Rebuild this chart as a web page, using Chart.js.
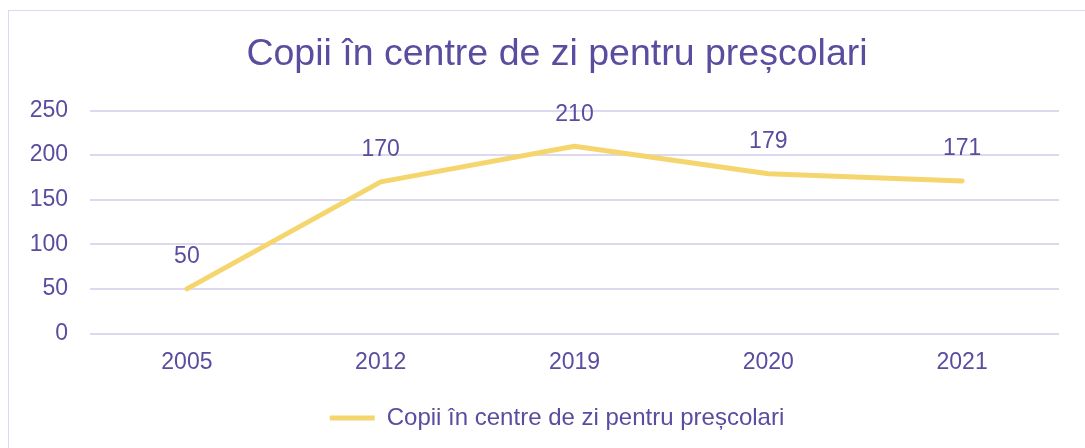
<!DOCTYPE html>
<html>
<head>
<meta charset="utf-8">
<script src="https://cdn.jsdelivr.net/npm/chart.js@4/dist/chart.umd.min.js"></script>
<style>
  body { margin: 0; background: #fff; overflow: hidden; }
  .frame { position: absolute; left: 8px; top: 10px; width: 1200px; height: 600px; border: 1px solid #dcd8ee; }
  .wrap { position: absolute; left: 0; top: 0; width: 1114px; height: 448px; }
</style>
</head>
<body>
<div class="frame"></div>
<div class="wrap"><canvas id="myChart"></canvas></div>
<script>
// data
const years = ['2005', '2012', '2019', '2020', '2021']
const children = [50, 170, 210, 179, 171]
const seriesName = 'Copii în centre de zi pentru preșcolari'
const yTicks = [0, 50, 100, 150, 200, 250]

const purple = '#5a4c9f'
const yellow = '#f5d66e'
const gridColor = '#dcd8ee'

// value labels above each point
const pointLabels = {
  id: 'pointLabels',
  afterDatasetsDraw(chart) {
    const ctx = chart.ctx
    const meta = chart.getDatasetMeta(0)
    ctx.save()
    ctx.font = '23px "Liberation Sans", Arial, sans-serif'
    ctx.fillStyle = purple
    ctx.textAlign = 'center'
    ctx.textBaseline = 'middle'
    meta.data.forEach((pt, i) => {
      ctx.fillText(String(children[i]), pt.x, pt.y - 32)
    })
    ctx.restore()
  }
}

Chart.defaults.font.family = '"Liberation Sans", Arial, sans-serif'
Chart.defaults.color = purple

var ctx = document.getElementById('myChart').getContext('2d')
var myChart = new Chart(ctx, {
  type: 'line',
  data: {
    labels: years,
    datasets: [
      {
        label: seriesName,
        data: children,
        borderColor: yellow,
        backgroundColor: yellow,
        borderWidth: 5,
        borderCapStyle: 'round',
        borderJoinStyle: 'round',
        pointRadius: 0,
        pointStyle: 'line',
        tension: 0
      }
    ]
  },
  options: {
    responsive: true,
    maintainAspectRatio: false,
    animation: false,
    layout: { padding: { left: 0, right: 0, top: 0, bottom: 8 } },
    plugins: {
      title: {
        display: true,
        text: seriesName,
        color: purple,
        font: { size: 37.5, weight: 'normal' },
        padding: { top: 32, bottom: 33.5 }
      },
      legend: {
        position: 'bottom',
        labels: {
          usePointStyle: true,
          pointStyleWidth: 45,
          color: purple,
          font: { size: 24 },
          padding: 10
        }
      },
      tooltip: { enabled: false }
    },
    scales: {
      x: {
        offset: true,
        grid: { display: false, drawTicks: false },
        border: { display: false },
        ticks: { padding: 15, font: { size: 23 }, color: purple },
        afterFit(scale) { scale.height = 62.5 }
      },
      y: {
        min: 0,
        max: 250,
        afterBuildTicks(scale) { scale.ticks = yTicks.map(v => ({ value: v })) },
        grid: { color: gridColor, lineWidth: 2, drawTicks: false },
        border: { display: false },
        ticks: { padding: 22, font: { size: 23 }, color: purple },
        afterFit(scale) { scale.width = 90 }
      },
      // empty right axis, only keeps the plot area clear of the right edge
      y2: {
        position: 'right',
        min: 0,
        max: 250,
        grid: { display: false, drawTicks: false },
        border: { display: false },
        ticks: { display: false },
        afterFit(scale) { scale.width = 55 }
      }
    }
  },
  plugins: [pointLabels]
})
</script>
</body>
</html>
